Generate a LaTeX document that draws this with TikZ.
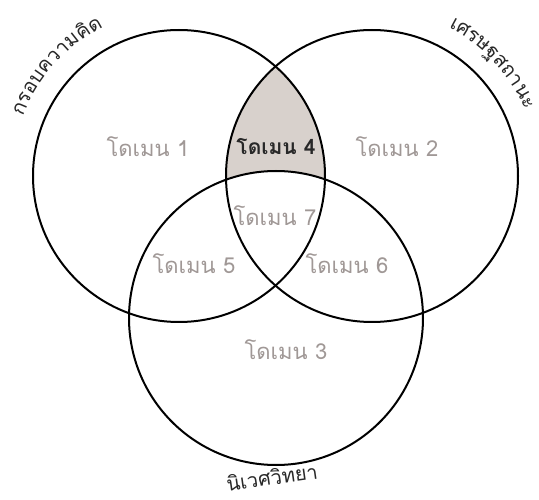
\documentclass[tikz,border=0pt]{standalone}
\usepackage{fontspec}
\newfontfamily\thaifont[Script=Thai]{Loma}
\usetikzlibrary{decorations.text}
\definecolor{domgray}{RGB}{160,152,150}
\definecolor{fillfour}{RGB}{216,209,204}
\definecolor{labeldark}{RGB}{40,40,40}
\begin{document}
\begin{tikzpicture}[x=1pt,y=1pt,
  venn/.style={circle, draw=black, line width=2pt, inner sep=0pt},
  dom/.style={font=\thaifont\fontsize{22}{26}\selectfont, text=domgray},
  domdark/.style={font=\thaifont\bfseries\fontsize{21}{26}\selectfont, text=labeldark},
  outlabel/.style={font=\thaifont\fontsize{20}{24}\selectfont, text=labeldark, inner sep=1pt}]
\useasboundingbox (0,0) rectangle (539,499);
\fill[white] (0,0) rectangle (539,499);
\coordinate (o1) at (179,323);
\coordinate (o2) at (372,323);
\coordinate (o3) at (276,181);
\begin{scope}
  \clip (o1) circle (146);
  \fill[fillfour] (o2) circle (146);
  \fill[white] (o3) circle (147);
\end{scope}
\node[venn, minimum size=292pt] (c1) at (o1) {};
\node[venn, minimum size=292pt] (c2) at (o2) {};
\node[venn, minimum size=294pt] (c3) at (o3) {};
\node[dom] (d1) at (148,352) {โดเมน 1};
\node[domdark] (d4) at (276,352) {โดเมน 4};
\node[dom] (d2) at (397,352) {โดเมน 2};
\node[dom] (d7) at (275,283) {โดเมน 7};
\node[dom] (d5) at (194,235) {โดเมน 5};
\node[dom] (d6) at (347,235) {โดเมน 6};
\node[dom] (d3) at (286,149) {โดเมน 3};
\path[decorate, decoration={text along path, text align=center,
  text={|\thaifont\fontsize{20}{24}\selectfont\color{labeldark}|กรอบความ{คิ}ด}}]
  ([shift={(168:167)}]o1) arc[start angle=168, end angle=108, radius=167];
\path[decorate, decoration={text along path, text align=center,
  text={|\thaifont\fontsize{20}{24}\selectfont\color{labeldark}|เศรษฐสถานะ}}]
  ([shift={(73:167)}]o2) arc[start angle=73, end angle=13, radius=167];
\node[outlabel, rotate=8] (l3) at (272,22) {นิเวศวิทยา};
\end{tikzpicture}
\end{document}
